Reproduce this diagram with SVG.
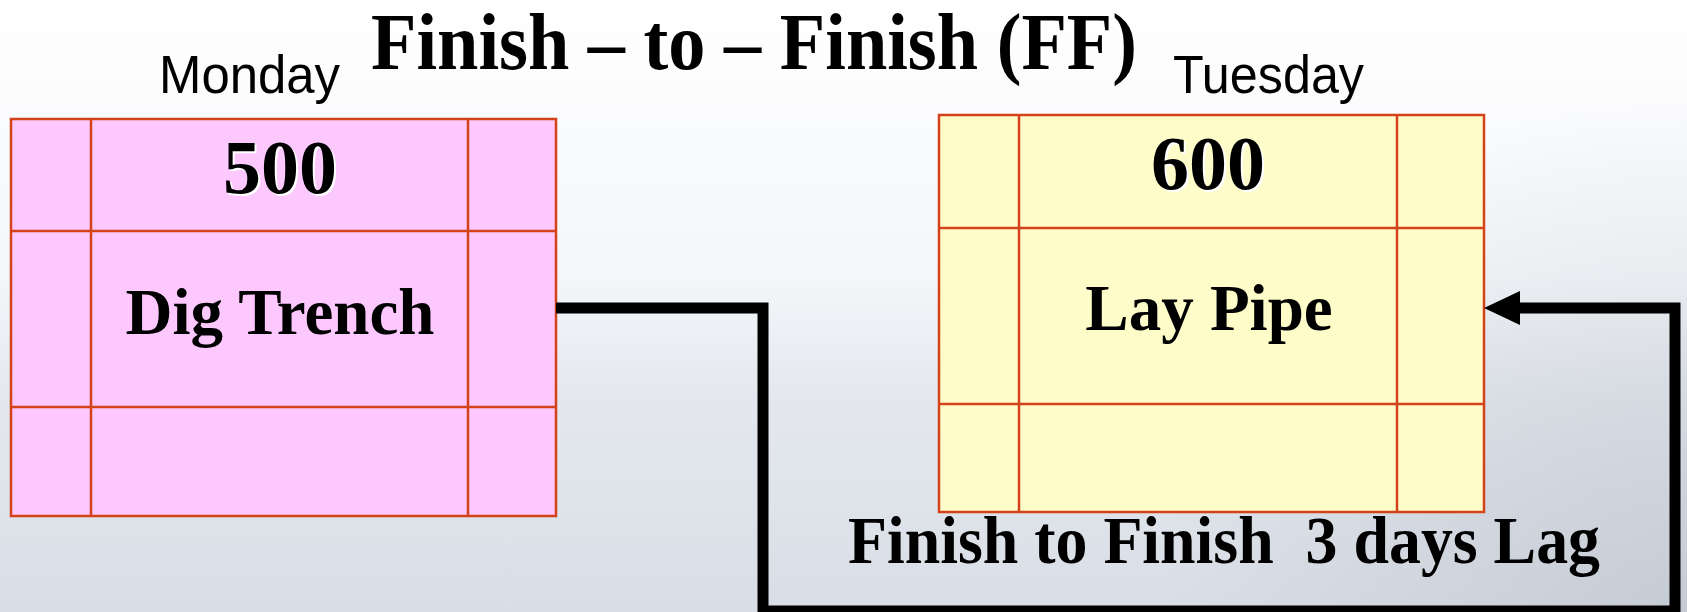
<svg xmlns="http://www.w3.org/2000/svg" width="1687" height="612" viewBox="0 0 1687 612">
  <style>
    .cell { stroke: #d4421a; stroke-width: 2.5; }
    .grid { stroke: #d4421a; stroke-width: 2.5; fill: none; }
    .num { font-family: "Liberation Serif", "Times New Roman", serif; font-weight: bold; font-size: 76px; text-anchor: middle; }
    .name { font-family: "Liberation Serif", "Times New Roman", serif; font-weight: bold; font-size: 65px; text-anchor: middle; fill: #000; }
    .day { font-family: "Liberation Sans", Arial, sans-serif; font-size: 54px; fill: #000; }
    .title { font-family: "Liberation Serif", "Times New Roman", serif; font-weight: bold; fill: #000; }
    .conn { fill: none; stroke: #000; stroke-width: 11; stroke-linejoin: miter; }
  </style>
  <defs>
    <linearGradient id="bg" x1="0" y1="0" x2="0" y2="1">
      <stop offset="0" stop-color="#ffffff"/>
      <stop offset="0.45" stop-color="#f4f6f9"/>
      <stop offset="0.65" stop-color="#e4e8ee"/>
      <stop offset="1" stop-color="#d9dee6"/>
    </linearGradient>
    <radialGradient id="bgR" cx="1687" cy="612" r="520" gradientUnits="userSpaceOnUse">
      <stop offset="0" stop-color="#a8afba" stop-opacity="0.4"/>
      <stop offset="1" stop-color="#a8afba" stop-opacity="0"/>
    </radialGradient>
    <marker id="arrow" markerUnits="userSpaceOnUse" markerWidth="36" markerHeight="34" refX="6" refY="17" orient="auto">
      <path d="M0,0 L36,17 L0,34 Z" fill="#000"/>
    </marker>
  </defs>

  <rect x="0" y="0" width="1687" height="612" fill="url(#bg)"/>
  <rect x="0" y="0" width="1687" height="612" fill="url(#bgR)"/>

  <text class="title" x="371" y="69" font-size="80" textLength="766" lengthAdjust="spacingAndGlyphs">Finish – to – Finish (FF)</text>
  <text class="day" x="159" y="93" textLength="181" lengthAdjust="spacingAndGlyphs">Monday</text>
  <text class="day" x="1173" y="93" textLength="191" lengthAdjust="spacingAndGlyphs">Tuesday</text>

  <g id="node-500">
    <rect class="cell" x="11" y="119" width="545" height="397" fill="#fdc8fd"/>
    <path class="grid" d="M91,119 V516 M468,119 V516 M11,231 H556 M11,407 H556"/>
    <text class="num" x="282" y="195" fill="#ffffff">500</text>
    <text class="num" x="280" y="193" fill="#000000">500</text>
    <text class="name" x="280" y="334">Dig Trench</text>
  </g>

  <g id="node-600">
    <rect class="cell" x="939" y="115" width="545" height="397" fill="#fefdca"/>
    <path class="grid" d="M1019,115 V512 M1397,115 V512 M939,228 H1484 M939,404 H1484"/>
    <text class="num" x="1210" y="191" fill="#ffffff">600</text>
    <text class="num" x="1208" y="189" fill="#000000">600</text>
    <text class="name" x="1209" y="330">Lay Pipe</text>
  </g>

  <g id="connectors">
    <path class="conn" d="M556,308 H763 V611 H1675 V308 H1514" marker-end="url(#arrow)"/>
  </g>

  <text class="title" x="848" y="563" font-size="67" textLength="752" lengthAdjust="spacingAndGlyphs" xml:space="preserve">Finish to Finish  3 days Lag</text>
</svg>
